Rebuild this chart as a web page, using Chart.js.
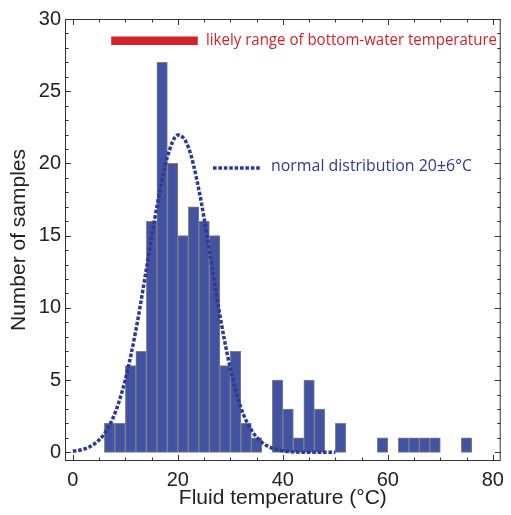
<!DOCTYPE html>
<html>
<head>
<meta charset="utf-8">
<script src="https://cdn.jsdelivr.net/npm/chart.js@4.4.1/dist/chart.umd.min.js"></script>
<style>
  html, body { margin: 0; padding: 0; background: #fff; }
  #wrap { width: 511px; height: 515px; position: relative; }
</style>
</head>
<body>
<div id="wrap"><canvas id="chart"></canvas></div>
<script>
// --- histogram of fluid temperatures (2 °C bins, left edge of each bin) ---
const binStarts = [6, 8, 10, 12, 14, 16, 18, 20, 22, 24, 26, 28, 30, 32, 34, 36, 38, 40, 42, 44,
                   46, 48, 50, 52, 54, 56, 58, 60, 62, 64, 66, 68, 70, 72, 74];
const sampleCounts = [2, 2, 6, 7, 16, 27, 20, 15, 17, 16, 15, 6, 7, 2, 1, 0, 5, 3, 1, 5,
                      3, 0, 2, 0, 0, 0, 1, 0, 1, 1, 1, 1, 0, 0, 1];

// normal distribution 20±6 °C
const curveX = [0, 2, 4, 6, 8, 10, 12, 14, 16, 18, 20, 22, 24, 26, 28, 30, 32, 34, 36, 38, 40, 42, 44, 46, 48, 50];
const curveY = [0.07, 0.21, 0.55, 1.29, 2.69, 5.04, 8.45, 12.68, 17.0, 20.44, 21.97, 21.13, 18.19, 14.0,
                9.5, 5.8, 3.1, 1.55, 0.7, 0.28, 0.1, 0.03, 0.01, 0, 0, 0];

// likely range of bottom-water temperature (drawn as the red bar)
const bottomWaterRange = [7.3, 23.8];
const bottomWaterLevel = 28.5;

const xTicks = [0, 20, 40, 60, 80];
const yTicks = [0, 5, 10, 15, 20, 25, 30];

const BAR_BLUE = '#4353a3';
const CURVE_BLUE = '#2e3a92';
const RED = '#d2232a';

// draw text squeezed horizontally so it spans a given width
function drawFitted(ctx, text, x, y, size, width) {
    ctx.font = size + 'px "Open Sans", sans-serif';
    const sx = width / ctx.measureText(text).width;
    ctx.save();
    ctx.translate(x, y);
    ctx.scale(sx, 1);
    ctx.fillText(text, 0, 0);
    ctx.restore();
}

// frame with inward ticks on all four sides, plus the text labels
const framePlugin = {
    id: 'frame',
    afterDatasetsDraw(chart) {
        const { ctx, chartArea: a, scales: { x, y } } = chart;
        ctx.save();
        ctx.strokeStyle = '#333';
        ctx.lineWidth = 1;
        ctx.strokeRect(a.left + 0.5, a.top + 0.5, a.right - a.left - 1, a.bottom - a.top - 1);

        ctx.beginPath();
        for (let v = 0; v <= 80; v += 5) {
            const px = Math.round(x.getPixelForValue(v)) + 0.5;
            const len = v % 20 === 0 ? 6 : 3.5;
            ctx.moveTo(px, a.bottom); ctx.lineTo(px, a.bottom - len);
            ctx.moveTo(px, a.top); ctx.lineTo(px, a.top + len);
        }
        for (let v = 0; v <= 30; v += 1) {
            const py = Math.round(y.getPixelForValue(v)) + 0.5;
            const len = v % 5 === 0 ? 6 : 3.5;
            ctx.moveTo(a.left, py); ctx.lineTo(a.left + len, py);
            ctx.moveTo(a.right, py); ctx.lineTo(a.right - len, py);
        }
        ctx.stroke();

        // annotation text
        ctx.textBaseline = 'middle';
        ctx.textAlign = 'left';
        ctx.fillStyle = RED;
        drawFitted(ctx, 'likely range of bottom-water temperature', 206, 41, 15.5, 291);

        // legend sample for the normal curve
        ctx.strokeStyle = CURVE_BLUE;
        ctx.lineWidth = 3.5;
        ctx.setLineDash([3.6, 1.8]);
        ctx.beginPath();
        ctx.moveTo(213, 168); ctx.lineTo(261, 168);
        ctx.stroke();
        ctx.setLineDash([]);

        ctx.fillStyle = CURVE_BLUE;
        drawFitted(ctx, 'normal distribution 20±6°C', 271, 167, 15.5, 201);
        ctx.restore();
    }
};

const ctx = document.getElementById('chart').getContext('2d');
new Chart(ctx, {
    type: 'bar',
    data: {
        datasets: [
            {
                type: 'line',
                data: bottomWaterRange.map(v => ({ x: v, y: bottomWaterLevel })),
                borderColor: RED,
                borderWidth: 8.5,
                borderCapStyle: 'butt',
                pointRadius: 0,
                order: 0
            },
            {
                type: 'line',
                data: curveX.map((v, i) => ({ x: v, y: curveY[i] })),
                borderColor: CURVE_BLUE,
                borderWidth: 3.5,
                borderDash: [3.6, 1.8],
                borderCapStyle: 'butt',
                cubicInterpolationMode: 'monotone',
                pointRadius: 0,
                order: 0
            },
            {
                type: 'bar',
                data: binStarts.map((v, i) => ({ x: v + 1, y: sampleCounts[i] || null })),
                backgroundColor: BAR_BLUE,
                borderColor: '#808080',
                borderWidth: 1,
                borderSkipped: false,
                barPercentage: 1,
                categoryPercentage: 1,
                order: 1
            }
        ]
    },
    options: {
        responsive: true,
        maintainAspectRatio: false,
        animation: false,
        layout: { padding: { top: 19, right: 3, left: 0, bottom: 0 } },
        plugins: {
            legend: { display: false },
            tooltip: { enabled: false }
        },
        scales: {
            x: {
                type: 'linear',
                offset: false,
                min: -1.5,
                max: 81.5,
                afterBuildTicks: s => { s.ticks = xTicks.map(v => ({ value: v })); },
                afterFit: s => { s.height = 54; },
                grid: { display: false, drawTicks: false, offset: false },
                border: { display: false },
                ticks: {
                    autoSkip: false,
                    maxRotation: 0,
                    padding: 7,
                    color: '#222',
                    font: { family: '"Liberation Sans", Arial, sans-serif', size: 20 }
                },
                title: {
                    display: true,
                    text: 'Fluid temperature (°C)',
                    color: '#222',
                    font: { family: '"Liberation Sans", Arial, sans-serif', size: 21 },
                    padding: { top: 0, bottom: 4 }
                }
            },
            y: {
                min: -0.6,
                max: 30,
                afterBuildTicks: s => { s.ticks = yTicks.map(v => ({ value: v })); },
                afterFit: s => { s.width = 65; },
                grid: { display: false, drawTicks: false },
                border: { display: false },
                ticks: {
                    autoSkip: false,
                    padding: 4,
                    color: '#222',
                    font: { family: '"Liberation Sans", Arial, sans-serif', size: 20 }
                },
                title: {
                    display: true,
                    text: 'Number of samples',
                    color: '#222',
                    font: { family: '"Liberation Sans", Arial, sans-serif', size: 21 },
                    padding: { top: 7, bottom: 0 }
                }
            }
        }
    },
    plugins: [framePlugin]
});
</script>
</body>
</html>
